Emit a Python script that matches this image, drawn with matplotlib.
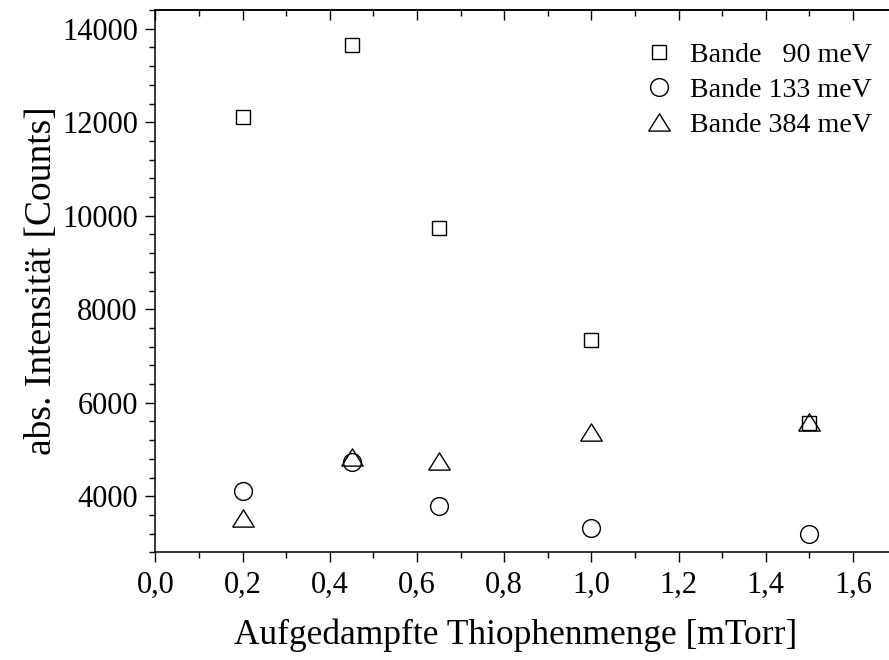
import numpy as np
import matplotlib
matplotlib.use("Agg")
import matplotlib.pyplot as plt
from matplotlib.ticker import MultipleLocator, FuncFormatter

menge = [0.2, 0.45, 0.65, 1.0, 1.5]
bande_90 = [12110, 13650, 9730, 7345, 5565]
bande_133 = [4115, 4735, 3790, 3325, 3190]
bande_384 = [3535, 4840, 4750, 5380, 5590]

labels = ["Bande   90 meV", "Bande 133 meV", "Bande 384 meV"]

plt.rcParams['font.family'] = ['Liberation Serif', 'DejaVu Serif']

fig = plt.figure(figsize=(8.89, 6.6), dpi=100)
ax = fig.add_axes([155.3 / 889, 1 - 552.3 / 660, 741.2 / 889, 542.3 / 660])

tri = [(-1, -0.8), (1, -0.8), (0, 0.8), (-1, -0.8)]
kw = dict(linestyle='none', markerfacecolor='none', markeredgecolor='black',
          markeredgewidth=1.0)
ax.plot(menge, bande_90, marker='s', markersize=10.6, label=labels[0], **kw)
ax.plot(menge, bande_133, marker='o', markersize=12.8, label=labels[1], **kw)
ax.plot(menge, bande_384, marker=tri, markersize=15.5, label=labels[2], **kw)

ax.set_xlim(0, 1.7)
ax.set_ylim(2800, 14400)

ax.xaxis.set_major_locator(MultipleLocator(0.2))
ax.xaxis.set_minor_locator(MultipleLocator(0.1))
ax.yaxis.set_major_locator(MultipleLocator(2000))
ax.yaxis.set_minor_locator(MultipleLocator(400))
ax.xaxis.set_major_formatter(FuncFormatter(lambda v, p: f"{v:.1f}".replace('.', ',')))

for s in ax.spines.values():
    s.set_linewidth(1.1)
ax.tick_params(which='major', direction='out', length=7.5, width=1.0,
               labelsize=22)
ax.tick_params(axis='x', which='major', pad=6)
ax.tick_params(axis='y', which='major', pad=5)
ax.tick_params(which='minor', direction='out', length=4, width=1.0)

top = ax.secondary_xaxis('top')
top.xaxis.set_major_locator(MultipleLocator(0.2))
top.xaxis.set_minor_locator(MultipleLocator(0.1))
top.tick_params(which='major', direction='in', length=7.5, width=1.0, labeltop=False)
top.tick_params(which='minor', direction='in', length=4, width=1.0)
top.spines['top'].set_linewidth(1.1)

ax.set_xlabel("Aufgedampfte Thiophenmenge [mTorr]", fontsize=25.5, labelpad=13, x=0.486)
ax.set_ylabel("abs. Intensität [Counts]", fontsize=27, labelpad=2)

ax.legend(loc='upper left', bbox_to_anchor=(628 / 889, 1 - 28 / 660),
          bbox_transform=fig.transFigure, frameon=False, fontsize=20.2,
          handletextpad=0.5, labelspacing=0.34, borderpad=0, handlelength=1.2)

fig.savefig("out.png", dpi=100)
